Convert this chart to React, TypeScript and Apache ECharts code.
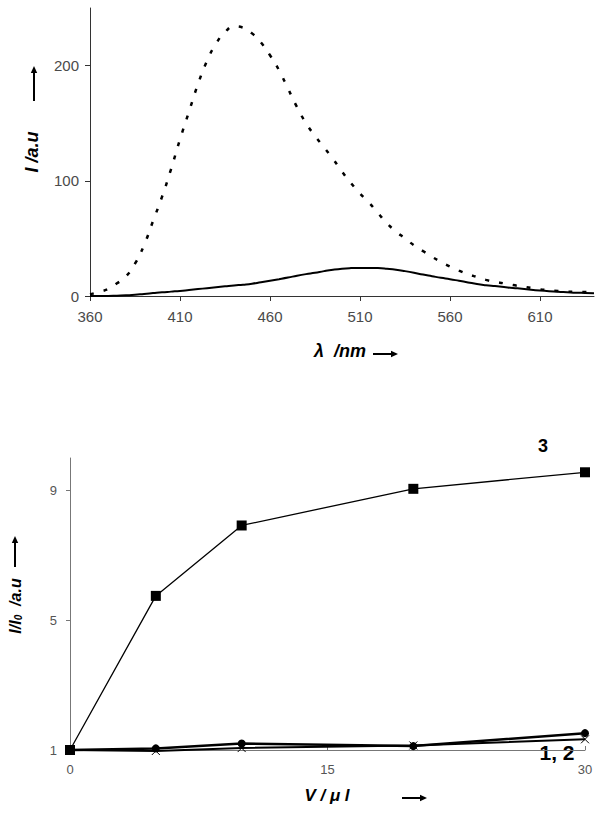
import React, { useEffect, useRef } from "react";
import * as echarts from "echarts";

// ---- Top panel: emission spectra ----
const wavelength = [
  360, 365, 370, 375, 380, 385, 390, 395, 400, 405, 410, 415, 420, 425, 430, 435,
  440, 445, 450, 455, 460, 465, 470, 475, 480, 485, 490, 495, 500, 505, 510, 515,
  520, 525, 530, 535, 540, 545, 550, 555, 560, 565, 570, 575, 580, 585, 590, 595,
  600, 605, 610, 615, 620, 625, 630, 635, 640,
];
const intensityDotted = [
  1.5, 3.5, 6, 11, 17, 28, 44, 65, 86, 110, 136, 160, 184, 204, 219, 229,
  234, 233, 228, 220, 209, 196, 180, 164, 150, 139, 129, 119, 108, 98, 89, 81,
  72, 63, 56, 50, 44, 39, 34, 29.5, 25.5, 22, 19, 16.5, 14, 12.3, 11, 9.5,
  8.3, 7, 5.8, 5, 4.3, 3.8, 3.6, 3.4, 3.2,
];
const intensitySolid = [
  0, 0, 0, 0.3, 0.6, 1, 1.8, 2.5, 3.2, 3.8, 4.4, 5.2, 6, 6.8, 7.6, 8.4,
  9.2, 9.8, 10.6, 12, 13.3, 14.6, 16, 17.6, 19, 20.2, 21.6, 22.8, 23.7, 24.2, 24.4, 24.4,
  24.2, 23.6, 22.8, 21.6, 20.2, 18.6, 17.2, 15.8, 14.6, 13.2, 11.8, 10.4, 9.4, 8.6, 7.8, 7,
  6.3, 5.5, 4.8, 4.2, 3.7, 3.3, 2.9, 2.6, 2.3,
];
const topXTicks = [360, 410, 460, 510, 560, 610];
const topYTicks = [0, 100, 200];

// ---- Bottom panel: I/I0 vs volume ----
const volume = [0, 5, 10, 20, 30];
const ratio3 = [1, 5.75, 7.92, 9.05, 9.56];
const ratio1 = [1, 1.05, 1.2, 1.12, 1.52];
const ratio2 = [1, 0.97, 1.06, 1.14, 1.33];
const botXTicks = [0, 15, 30];
const botYTicks = [1, 5, 9];

const FONT = "'Liberation Sans', Arial, sans-serif";

function pairs(xs: number[], ys: number[]) {
  return xs.map((x, i) => [x, ys[i]]);
}

function arrow(x1: number, y1: number, x2: number, y2: number) {
  const dx = x2 - x1;
  const dy = y2 - y1;
  const len = Math.sqrt(dx * dx + dy * dy);
  const ux = dx / len;
  const uy = dy / len;
  const hl = 7;
  const hw = 3.2;
  const bx = x2 - ux * hl;
  const by = y2 - uy * hl;
  return [
    {
      type: "line",
      shape: { x1, y1, x2: bx, y2: by },
      style: { stroke: "#000", lineWidth: 2 },
    },
    {
      type: "polygon",
      shape: {
        points: [
          [x2, y2],
          [bx - uy * hw, by + ux * hw],
          [bx + uy * hw, by - ux * hw],
        ],
      },
      style: { fill: "#000" },
    },
  ];
}

export default function App() {
  const ref = useRef<HTMLDivElement>(null);

  useEffect(() => {
    if (!ref.current) return;
    const chart = echarts.init(ref.current, null, { renderer: "svg" });

    const option: any = {
      animation: false,
      backgroundColor: "#fff",
      grid: [
        { left: 90, top: 8, width: 504, height: 288 },
        { left: 70, top: 458, width: 515, height: 292 },
      ],
      xAxis: [
        {
          gridIndex: 0,
          type: "value",
          min: 360,
          max: 640,
          axisLine: { lineStyle: { color: "#333", width: 1 } },
          axisTick: { show: true, length: 5, customValues: topXTicks, lineStyle: { color: "#333" } },
          axisLabel: {
            customValues: topXTicks,
            margin: 13,
            fontFamily: FONT,
            fontSize: 15,
            color: "#4a4a4a",
          },
          splitLine: { show: false },
        },
        {
          gridIndex: 1,
          type: "value",
          min: 0,
          max: 30,
          axisLine: { lineStyle: { color: "#777", width: 1 } },
          axisTick: { show: true, inside: true, length: 4, customValues: botXTicks, lineStyle: { color: "#777" } },
          axisLabel: {
            customValues: botXTicks,
            margin: 13,
            fontFamily: FONT,
            fontSize: 13,
            color: "#555",
          },
          splitLine: { show: false },
        },
      ],
      yAxis: [
        {
          gridIndex: 0,
          type: "value",
          min: 0,
          max: 250,
          axisLine: { show: true, lineStyle: { color: "#333", width: 1 } },
          axisTick: { show: true, length: 5, customValues: topYTicks, lineStyle: { color: "#333" } },
          axisLabel: {
            customValues: topYTicks,
            margin: 11,
            fontFamily: FONT,
            fontSize: 15,
            color: "#4a4a4a",
          },
          splitLine: { show: false },
        },
        {
          gridIndex: 1,
          type: "value",
          min: 1,
          max: 10,
          axisLine: { show: true, lineStyle: { color: "#777", width: 1 } },
          axisTick: { show: true, length: 4, customValues: botYTicks, lineStyle: { color: "#777" } },
          axisLabel: {
            customValues: botYTicks,
            margin: 13,
            fontFamily: FONT,
            fontSize: 13,
            color: "#555",
          },
          splitLine: { show: false },
        },
      ],
      series: [
        {
          name: "dotted",
          type: "line",
          xAxisIndex: 0,
          yAxisIndex: 0,
          data: pairs(wavelength, intensityDotted),
          showSymbol: false,
          smooth: true,
          lineStyle: { color: "#000", width: 2.5, type: [4, 10] },
        },
        {
          name: "solid",
          type: "line",
          xAxisIndex: 0,
          yAxisIndex: 0,
          data: pairs(wavelength, intensitySolid),
          showSymbol: false,
          smooth: true,
          lineStyle: { color: "#000", width: 2 },
        },
        {
          name: "3",
          type: "line",
          xAxisIndex: 1,
          yAxisIndex: 1,
          clip: false,
          data: pairs(volume, ratio3),
          symbol: "rect",
          symbolSize: 10,
          itemStyle: { color: "#000" },
          lineStyle: { color: "#000", width: 1.3 },
        },
        {
          name: "2",
          type: "line",
          xAxisIndex: 1,
          yAxisIndex: 1,
          clip: false,
          data: pairs(volume, ratio2),
          symbol: "path://M0,0L10,10M10,0L0,10",
          symbolSize: 8,
          itemStyle: { color: "none", borderColor: "#000", borderWidth: 1 },
          lineStyle: { color: "#000", width: 2 },
        },
        {
          name: "1",
          type: "line",
          xAxisIndex: 1,
          yAxisIndex: 1,
          clip: false,
          data: pairs(volume, ratio1),
          symbol: "circle",
          symbolSize: 8,
          itemStyle: { color: "#000" },
          lineStyle: { color: "#000", width: 2.5 },
        },
      ],
      graphic: [
        // top y label
        {
          type: "text",
          x: 32,
          y: 152,
          rotation: Math.PI / 2,
          style: {
            text: "I /a.u",
            font: `italic bold 18px ${FONT}`,
            fill: "#000",
            align: "center",
            verticalAlign: "middle",
          },
        },
        ...arrow(34, 101, 34, 66),
        // top x label
        {
          type: "text",
          x: 340,
          y: 351,
          style: {
            text: "λ  /nm",
            font: `italic bold 18px ${FONT}`,
            fill: "#000",
            align: "center",
            verticalAlign: "middle",
          },
        },
        ...arrow(373, 354, 398, 354),
        // bottom y label
        {
          type: "text",
          x: 15,
          y: 606,
          rotation: Math.PI / 2,
          style: {
            rich: {
              a: { font: `italic bold 16px ${FONT}`, fill: "#000" },
              s: { font: `italic bold 10px ${FONT}`, fill: "#000", padding: [7, 0, 0, 0] },
            },
            text: "{a|I/I}{s|0}{a|  /a.u}",
            align: "center",
            verticalAlign: "middle",
          },
        },
        ...arrow(15, 567, 15, 536),
        // bottom x label
        {
          type: "text",
          x: 327,
          y: 795,
          style: {
            text: "V / μ l",
            font: `italic bold 17px ${FONT}`,
            fill: "#000",
            align: "center",
            verticalAlign: "middle",
          },
        },
        ...arrow(402, 798, 427, 798),
        // series labels
        {
          type: "text",
          x: 543,
          y: 446,
          style: {
            text: "3",
            font: `bold 18px ${FONT}`,
            fill: "#000",
            align: "center",
            verticalAlign: "middle",
          },
        },
        {
          type: "text",
          x: 557,
          y: 752,
          style: {
            text: "1, 2",
            font: `bold 21px ${FONT}`,
            fill: "#000",
            align: "center",
            verticalAlign: "middle",
          },
        },
      ],
    };

    chart.setOption(option);
    return () => chart.dispose();
  }, []);

  return (
    <div
      ref={ref}
      style={{ position: "absolute", left: 0, top: 0, width: 602, height: 815, background: "#fff" }}
    />
  );
}
